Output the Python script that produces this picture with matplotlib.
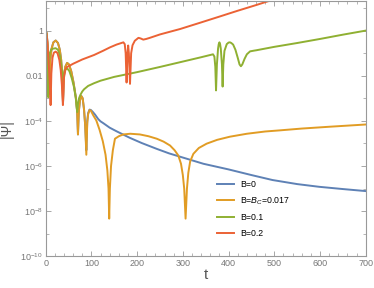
import numpy as np
import matplotlib
matplotlib.use("Agg")
from matplotlib import pyplot as plt

plt.rcParams['font.family'] = ['Liberation Sans', 'DejaVu Sans']
plt.rcParams['mathtext.fontset'] = 'custom'
plt.rcParams['mathtext.rm'] = 'Liberation Sans'
plt.rcParams['mathtext.it'] = 'Liberation Sans:italic'

# values: time t and log10|Psi|
t_b0 = [0, 2, 4, 6, 8, 10, 13, 17, 22, 27, 31, 34, 36, 38, 40, 43, 47, 51, 56, 61, 66, 69,
        70.7, 72.5, 75, 78, 81, 84, 86.5, 89, 91, 93, 96, 99, 103, 108, 115, 120, 126, 140,
        155, 184, 210, 243, 270, 301, 345, 400, 450, 496, 550, 598, 650, 700]
lg_b0 = [0, -0.1, -0.5, -1.2, -2.8, -1.3, -0.8, -0.52, -0.44, -0.55, -0.85, -1.3, -1.9, -3.2,
         -2.0, -1.6, -1.43, -1.5, -1.8, -2.3, -2.95, -3.6, -4.6, -3.6, -3.1, -2.9, -3.0, -3.5,
         -4.2, -5.3, -4.0, -3.65, -3.5, -3.52, -3.6, -3.72, -3.92, -4.02, -4.1, -4.3, -4.46,
         -4.75, -4.98, -5.24, -5.44, -5.63, -5.9, -6.15, -6.4, -6.62, -6.8, -6.92, -7.02, -7.11]

t_bc = [0, 2, 4, 6, 8, 10, 13, 17, 22, 27, 31, 34, 36, 38, 40, 43, 47, 51, 56, 61, 66, 69,
        70.7, 72.5, 75, 78, 81, 84, 86.5, 89, 91, 93, 96, 99, 104, 110.8, 118, 125, 131, 135,
        137.5, 139, 140.5, 143, 147, 151.6, 160, 170, 185, 206, 225, 243, 258, 272, 282, 290,
        296, 300, 303, 306, 309, 312, 316, 323, 335, 352, 375, 403, 440, 480, 512, 560, 620, 700]
lg_bc = [0, -0.1, -0.5, -1.2, -2.8, -1.3, -0.8, -0.52, -0.44, -0.55, -0.85, -1.3, -1.9, -3.2,
         -2.0, -1.6, -1.43, -1.5, -1.8, -2.3, -2.95, -3.6, -4.6, -3.6, -3.1, -2.9, -3.0, -3.5,
         -4.2, -5.5, -4.1, -3.7, -3.52, -3.55, -3.75, -3.98, -4.4, -4.9, -5.5, -6.2, -7.0, -8.33,
         -7.0, -6.0, -5.3, -4.79, -4.68, -4.6, -4.57, -4.6, -4.68, -4.79, -4.92, -5.09, -5.3,
         -5.53, -5.9, -6.4, -7.0, -8.33, -7.0, -6.3, -5.8, -5.46, -5.2, -5.01, -4.84, -4.7,
         -4.57, -4.47, -4.42, -4.34, -4.26, -4.16]

t_b01 = [0, 2, 4, 5, 5.8, 7, 9, 12, 16, 22, 27, 31, 34, 36, 37.5, 39, 42, 47, 52, 57, 62, 66,
         69, 71, 73, 76, 80, 84, 93, 106, 120, 150, 200, 250, 294, 340, 360, 366, 369, 371,
         372.6, 374.5, 377, 378.5, 380, 381.5, 383, 385.5, 387, 388.5, 391, 396, 400, 403, 406,
         410, 415, 420, 424, 427, 430, 435, 440, 447, 455, 461, 500, 550, 600, 650, 700]
lg_b01 = [0, -0.15, -0.7, -1.3, -2.95, -1.5, -1.0, -0.85, -0.8, -0.78, -0.85, -1.1, -1.5, -1.9,
          -2.6, -2.0, -1.75, -1.67, -1.8, -2.1, -2.5, -3.0, -3.61, -3.2, -3.0, -2.85, -2.7,
          -2.6, -2.45, -2.33, -2.22, -2.05, -1.84, -1.61, -1.4, -1.18, -1.08, -1.05, -1.15,
          -1.6, -2.65, -1.5, -0.8, -0.6, -0.52, -0.6, -0.8, -1.5, -2.48, -1.5, -0.9, -0.6,
          -0.53, -0.52, -0.55, -0.62, -0.85, -1.2, -1.5, -1.58, -1.5, -1.25, -1.05, -0.92,
          -0.89, -0.87, -0.72, -0.55, -0.37, -0.18, 0.0]

t_b02 = [0, 2, 4, 6, 8, 9.5, 10.9, 12.5, 15, 18, 22, 26, 30, 33, 35.5, 37.8, 40, 43, 46, 51,
         60, 80, 106, 125, 141, 155, 170, 173, 175, 177, 179, 180.5, 182, 184.5, 187, 190, 195,
         203, 208, 213.5, 220, 228, 250, 294, 338, 380, 420, 460, 491, 510]
lg_b02 = [0, -0.15, -0.6, -1.2, -1.9, -2.5, -3.3, -1.9, -1.2, -0.98, -0.93, -1.0, -1.3, -1.75,
          -2.4, -3.3, -2.1, -1.75, -1.62, -1.57, -1.47, -1.28, -1.08, -0.9, -0.74, -0.62, -0.52,
          -0.6, -1.0, -2.3, -1.0, -0.66, -1.0, -2.36, -1.0, -0.65, -0.45, -0.32, -0.35, -0.4,
          -0.37, -0.32, -0.17, 0.07, 0.35, 0.62, 0.88, 1.13, 1.33, 1.45]

labels = ['B=0', 'B=$B_C$=0.017', 'B=0.1', 'B=0.2']
colors = ['#5E81B5', '#E19C24', '#8FB032', '#EB6235']

ytick_vals = [1e-10, 1e-8, 1e-6, 1e-4, 1e-2, 1]
ytick_labels = ['$10^{-10}$', '$10^{-8}$', '$10^{-6}$', '$10^{-4}$', '0.01', '1']

fig = plt.figure(figsize=(3.74, 2.88), dpi=100)
ax = fig.add_axes([0.122, 0.110, 0.856, 0.888])

series = [(t_b0, lg_b0), (t_bc, lg_bc), (t_b01, lg_b01), (t_b02, lg_b02)]
for (t, lg), lab, c in zip(series, labels, colors):
    ax.plot(t, 10.0 ** np.array(lg), color=c, lw=1.4, label=lab)

ax.set_yscale('log')
ax.set_xlim(0, 700)
ax.set_ylim(1e-10, 10 ** 1.33)
ax.set_yticks(ytick_vals)
ax.set_yticklabels(ytick_labels)
ax.set_yticks([1e-9, 1e-7, 1e-5, 1e-3, 1e-1, 10], minor=True)
ax.yaxis.set_minor_formatter(matplotlib.ticker.NullFormatter())
ax.set_xticks([0, 100, 200, 300, 400, 500, 600, 700])
ax.set_xticks(np.arange(0, 701, 20), minor=True)

gray = '#999999'
for s in ax.spines.values():
    s.set_color(gray)
    s.set_linewidth(0.8)
ax.tick_params(which='both', direction='in', top=True, right=True, color=gray,
               labelcolor='#777777', labelsize=6.5, pad=2)
ax.tick_params(which='major', length=3.5, width=0.6)
ax.tick_params(which='minor', length=2, width=0.5)

ax.set_xlabel('t', fontsize=11, color='#555555', labelpad=0)
ax.set_ylabel('|Ψ|', fontsize=10, color='#555555', labelpad=5)

ax.legend(loc='upper left', bbox_to_anchor=(0.534, 0.300), frameon=False,
          fontsize=6.3, handlelength=2.0, handletextpad=0.7, labelspacing=0.75,
          borderpad=0, borderaxespad=0)

fig.savefig('out.png', dpi=100)
